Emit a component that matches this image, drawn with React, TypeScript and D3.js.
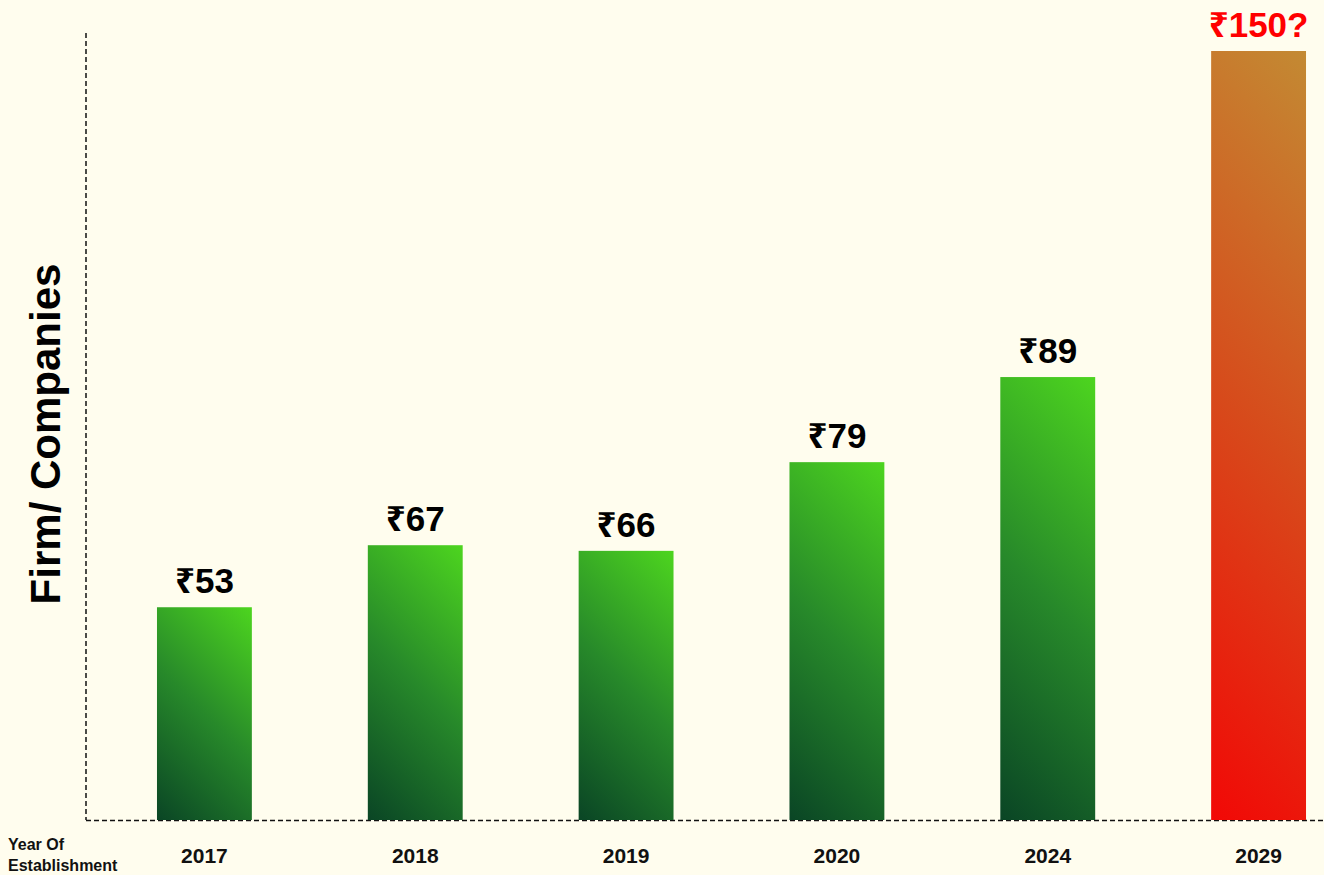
import React from "react";
import * as d3 from "d3";

const years = ["2017", "2018", "2019", "2020", "2024", "2029"];
const priceLabels = ["₹53", "₹67", "₹66", "₹79", "₹89", "₹150?"];
const barHeights = [41.5, 53.6, 52.5, 69.8, 86.4, 150];
const projected = [false, false, false, false, false, true];
const yMax = 150;

const greenStops = [
  { offset: "0%", color: "#0a4525" },
  { offset: "50%", color: "#27892a" },
  { offset: "100%", color: "#4dd51f" },
];
const redStops = [
  { offset: "0%", color: "#f20806" },
  { offset: "50%", color: "#d74a1b" },
  { offset: "100%", color: "#c38a33" },
];

const W = 1324;
const H = 875;
const FONT = "'Liberation Sans', Arial, Helvetica, 'Noto Sans', 'DejaVu Sans', sans-serif";

export default function App() {
  const x = d3
    .scaleBand<string>()
    .domain(years)
    .range([99, 1364])
    .paddingInner(0.55)
    .paddingOuter(0.275);
  const y = d3.scaleLinear().domain([0, yMax]).range([820, 51]);
  const base = y(0);
  const bw = x.bandwidth();

  return (
    <svg
      width={W}
      height={H}
      style={{ position: "absolute", left: 0, top: 0, display: "block", background: "#fffdee" }}
      fontFamily={FONT}
    >
      <defs>
        {years.map((yr, i) => {
          const bx = x(yr) as number;
          const top = y(barHeights[i]);
          const half = (bw + (base - top)) / 2;
          const stops = projected[i] ? redStops : greenStops;
          return (
            <linearGradient
              key={yr}
              id={`grad${i}`}
              gradientUnits="userSpaceOnUse"
              x1={bx}
              y1={base}
              x2={bx + half}
              y2={base - half}
            >
              {stops.map((s) => (
                <stop key={s.offset} offset={s.offset} stopColor={s.color} />
              ))}
            </linearGradient>
          );
        })}
      </defs>
      <rect x={0} y={0} width={W} height={H} fill="#fffdee" />

      <line x1={86} y1={33} x2={86} y2={base} stroke="#111" strokeWidth={1.5} strokeDasharray="5,3" />
      <line x1={86} y1={base + 0.5} x2={W} y2={base + 0.5} stroke="#111" strokeWidth={1.5} strokeDasharray="5,3" />

      {years.map((yr, i) => {
        const bx = x(yr) as number;
        const top = y(barHeights[i]);
        return (
          <g key={yr}>
            <rect x={bx} y={top} width={bw} height={base - top} fill={`url(#grad${i})`} />
            <text
              x={bx + bw / 2}
              y={top - 14}
              textAnchor="middle"
              fontSize={35}
              fontWeight="bold"
              fill={projected[i] ? "#ff0000" : "#000"}
            >
              {priceLabels[i]}
            </text>
            <text x={bx + bw / 2} y={863} textAnchor="middle" fontSize={21} fontWeight="bold" fill="#111">
              {yr}
            </text>
          </g>
        );
      })}

      <text transform="translate(60,434) rotate(-90)" textAnchor="middle" fontSize={42} fontWeight="bold" fill="#000">
        Firm/ Companies
      </text>

      <text x={8} y={850} fontSize={16} fontWeight="bold" fill="#111">
        Year Of
      </text>
      <text x={8} y={871} fontSize={16} fontWeight="bold" fill="#111">
        Establishment
      </text>
    </svg>
  );
}
